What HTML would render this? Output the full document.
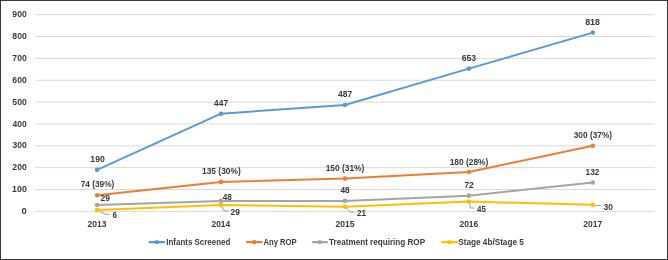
<!DOCTYPE html><html><head><meta charset="utf-8"><style>html,body{margin:0;padding:0;background:#fff}svg{display:block;will-change:transform}text{font-family:"Liberation Sans",sans-serif;font-weight:bold;fill:#3a3a3a;stroke:#3a3a3a;stroke-width:0px}</style></head><body>
<svg width="668" height="260" viewBox="0 0 668 260">
<rect x="0" y="0" width="668" height="260" fill="#fff"/>
<line x1="35.1" y1="211.40" x2="654.8" y2="211.40" stroke="#D9D9D9" stroke-width="1"/>
<text transform="translate(21.57,214.00) scale(1.020,1)" style="font-size:9.2px">0</text>
<line x1="35.1" y1="189.54" x2="654.8" y2="189.54" stroke="#D9D9D9" stroke-width="1"/>
<text transform="translate(12.12,192.14) scale(0.956,1)" style="font-size:9.2px">100</text>
<line x1="35.1" y1="167.68" x2="654.8" y2="167.68" stroke="#D9D9D9" stroke-width="1"/>
<text transform="translate(12.36,170.28) scale(0.940,1)" style="font-size:9.2px">200</text>
<line x1="35.1" y1="145.82" x2="654.8" y2="145.82" stroke="#D9D9D9" stroke-width="1"/>
<text transform="translate(12.60,148.42) scale(0.925,1)" style="font-size:9.2px">300</text>
<line x1="35.1" y1="123.96" x2="654.8" y2="123.96" stroke="#D9D9D9" stroke-width="1"/>
<text transform="translate(12.60,126.56) scale(0.925,1)" style="font-size:9.2px">400</text>
<line x1="35.1" y1="102.10" x2="654.8" y2="102.10" stroke="#D9D9D9" stroke-width="1"/>
<text transform="translate(12.36,104.70) scale(0.940,1)" style="font-size:9.2px">500</text>
<line x1="35.1" y1="80.24" x2="654.8" y2="80.24" stroke="#D9D9D9" stroke-width="1"/>
<text transform="translate(12.36,82.84) scale(0.940,1)" style="font-size:9.2px">600</text>
<line x1="35.1" y1="58.38" x2="654.8" y2="58.38" stroke="#D9D9D9" stroke-width="1"/>
<text transform="translate(12.36,60.98) scale(0.940,1)" style="font-size:9.2px">700</text>
<line x1="35.1" y1="36.52" x2="654.8" y2="36.52" stroke="#D9D9D9" stroke-width="1"/>
<text transform="translate(12.36,39.12) scale(0.940,1)" style="font-size:9.2px">800</text>
<line x1="35.1" y1="14.66" x2="654.8" y2="14.66" stroke="#D9D9D9" stroke-width="1"/>
<text transform="translate(12.36,17.26) scale(0.940,1)" style="font-size:9.2px">900</text>
<text transform="translate(87.59,226.60) scale(0.925,1)" style="font-size:9.2px">2013</text>
<text transform="translate(211.53,226.60) scale(0.914,1)" style="font-size:9.2px">2014</text>
<text transform="translate(335.47,226.60) scale(0.925,1)" style="font-size:9.2px">2015</text>
<text transform="translate(459.41,226.60) scale(0.925,1)" style="font-size:9.2px">2016</text>
<text transform="translate(583.35,226.60) scale(0.925,1)" style="font-size:9.2px">2017</text>
<path d="M100.3 211.6 L105 214.1 L109.8 214.3" fill="none" stroke="#9a9a9a" stroke-width="1"/>
<path d="M222 206.9 L224.3 210.8 L228.5 210.8" fill="none" stroke="#9a9a9a" stroke-width="1"/>
<path d="M346.5 208 L350.4 212.2 L354.2 212.2" fill="none" stroke="#9a9a9a" stroke-width="1"/>
<path d="M469.6 203 L470.4 208 L474.2 208" fill="none" stroke="#9a9a9a" stroke-width="1"/>
<path d="M594.5 205.6 L600.6 205.6" fill="none" stroke="#9a9a9a" stroke-width="1"/>
<polyline points="97.07,169.87 221.01,113.69 344.95,104.94 468.89,68.65 592.83,32.59" fill="none" stroke="#5B9BD5" stroke-width="2.0" stroke-linejoin="round" stroke-linecap="round"/>
<circle cx="97.07" cy="169.87" r="2.3" fill="#5B9BD5"/>
<circle cx="221.01" cy="113.69" r="2.3" fill="#5B9BD5"/>
<circle cx="344.95" cy="104.94" r="2.3" fill="#5B9BD5"/>
<circle cx="468.89" cy="68.65" r="2.3" fill="#5B9BD5"/>
<circle cx="592.83" cy="32.59" r="2.3" fill="#5B9BD5"/>
<polyline points="97.07,195.22 221.01,181.89 344.95,178.61 468.89,172.05 592.83,145.82" fill="none" stroke="#ED7D31" stroke-width="2.0" stroke-linejoin="round" stroke-linecap="round"/>
<circle cx="97.07" cy="195.22" r="2.3" fill="#ED7D31"/>
<circle cx="221.01" cy="181.89" r="2.3" fill="#ED7D31"/>
<circle cx="344.95" cy="178.61" r="2.3" fill="#ED7D31"/>
<circle cx="468.89" cy="172.05" r="2.3" fill="#ED7D31"/>
<circle cx="592.83" cy="145.82" r="2.3" fill="#ED7D31"/>
<polyline points="97.07,205.06 221.01,200.91 344.95,200.91 468.89,195.66 592.83,182.54" fill="none" stroke="#A5A5A5" stroke-width="2.0" stroke-linejoin="round" stroke-linecap="round"/>
<circle cx="97.07" cy="205.06" r="2.3" fill="#A5A5A5"/>
<circle cx="221.01" cy="200.91" r="2.3" fill="#A5A5A5"/>
<circle cx="344.95" cy="200.91" r="2.3" fill="#A5A5A5"/>
<circle cx="468.89" cy="195.66" r="2.3" fill="#A5A5A5"/>
<circle cx="592.83" cy="182.54" r="2.3" fill="#A5A5A5"/>
<polyline points="97.07,210.09 221.01,205.06 344.95,206.81 468.89,201.56 592.83,204.84" fill="none" stroke="#FFC000" stroke-width="2.0" stroke-linejoin="round" stroke-linecap="round"/>
<circle cx="97.07" cy="210.09" r="2.3" fill="#FFC000"/>
<circle cx="221.01" cy="205.06" r="2.3" fill="#FFC000"/>
<circle cx="344.95" cy="206.81" r="2.3" fill="#FFC000"/>
<circle cx="468.89" cy="201.56" r="2.3" fill="#FFC000"/>
<circle cx="592.83" cy="204.84" r="2.3" fill="#FFC000"/>
<text transform="translate(90.33,161.90) scale(0.942,1)" style="font-size:9.2px">190</text>
<text transform="translate(214.10,105.80) scale(0.911,1)" style="font-size:9.2px">447</text>
<text transform="translate(338.00,96.90) scale(0.918,1)" style="font-size:9.2px">487</text>
<text transform="translate(461.66,60.60) scale(0.940,1)" style="font-size:9.2px">653</text>
<text transform="translate(585.16,24.70) scale(0.967,1)" style="font-size:9.2px">818</text>
<text transform="translate(80.67,187.20) scale(0.901,1)" style="font-size:9.2px">74 (39%)</text>
<text transform="translate(202.04,173.80) scale(0.911,1)" style="font-size:9.2px">135 (30%)</text>
<text transform="translate(325.64,170.60) scale(0.911,1)" style="font-size:9.2px">150 (31%)</text>
<text transform="translate(449.64,164.50) scale(0.913,1)" style="font-size:9.2px">180 (28%)</text>
<text transform="translate(573.70,137.50) scale(0.905,1)" style="font-size:9.2px">300 (37%)</text>
<text transform="translate(100.57,200.90) scale(0.923,1)" style="font-size:9.2px">29</text>
<text transform="translate(222.80,199.60) scale(0.888,1)" style="font-size:9.2px">48</text>
<text transform="translate(340.40,192.70) scale(0.898,1)" style="font-size:9.2px">48</text>
<text transform="translate(464.17,188.10) scale(0.933,1)" style="font-size:9.2px">72</text>
<text transform="translate(585.55,174.60) scale(0.902,1)" style="font-size:9.2px">132</text>
<text transform="translate(112.58,218.20) scale(0.884,1)" style="font-size:9.2px">6</text>
<text transform="translate(230.57,214.50) scale(0.913,1)" style="font-size:9.2px">29</text>
<text transform="translate(357.08,215.50) scale(0.890,1)" style="font-size:9.2px">21</text>
<text transform="translate(477.00,211.80) scale(0.859,1)" style="font-size:9.2px">45</text>
<text transform="translate(603.50,209.50) scale(0.920,1)" style="font-size:9.2px">30</text>
<line x1="149.6" y1="242.2" x2="164.1" y2="242.2" stroke="#5B9BD5" stroke-width="2.2" stroke-linecap="round"/>
<circle cx="156.85" cy="242.2" r="2.1" fill="#5B9BD5"/>
<text x="166.3" y="245.4" style="font-size:9px" textLength="64.0" lengthAdjust="spacingAndGlyphs">Infants Screened</text>
<line x1="247.0" y1="242.2" x2="261.7" y2="242.2" stroke="#ED7D31" stroke-width="2.2" stroke-linecap="round"/>
<circle cx="254.35" cy="242.2" r="2.1" fill="#ED7D31"/>
<text x="263.5" y="245.4" style="font-size:9px" textLength="33.1" lengthAdjust="spacingAndGlyphs">Any ROP</text>
<line x1="312.8" y1="242.2" x2="327.0" y2="242.2" stroke="#A5A5A5" stroke-width="2.2" stroke-linecap="round"/>
<circle cx="319.90" cy="242.2" r="2.1" fill="#A5A5A5"/>
<text x="329.1" y="245.4" style="font-size:9px" textLength="96.0" lengthAdjust="spacingAndGlyphs">Treatment requiring ROP</text>
<line x1="442.2" y1="242.2" x2="457.1" y2="242.2" stroke="#FFC000" stroke-width="2.2" stroke-linecap="round"/>
<circle cx="449.65" cy="242.2" r="2.1" fill="#FFC000"/>
<text x="458.3" y="245.4" style="font-size:9px" textLength="65.5" lengthAdjust="spacingAndGlyphs">Stage 4b/Stage 5</text>
<rect x="0" y="0" width="668" height="1" fill="#383838"/><rect x="0" y="259" width="668" height="1" fill="#383838"/><rect x="0" y="0" width="1" height="260" fill="#383838"/><rect x="667" y="0" width="1" height="260" fill="#383838"/>
</svg></body></html>
